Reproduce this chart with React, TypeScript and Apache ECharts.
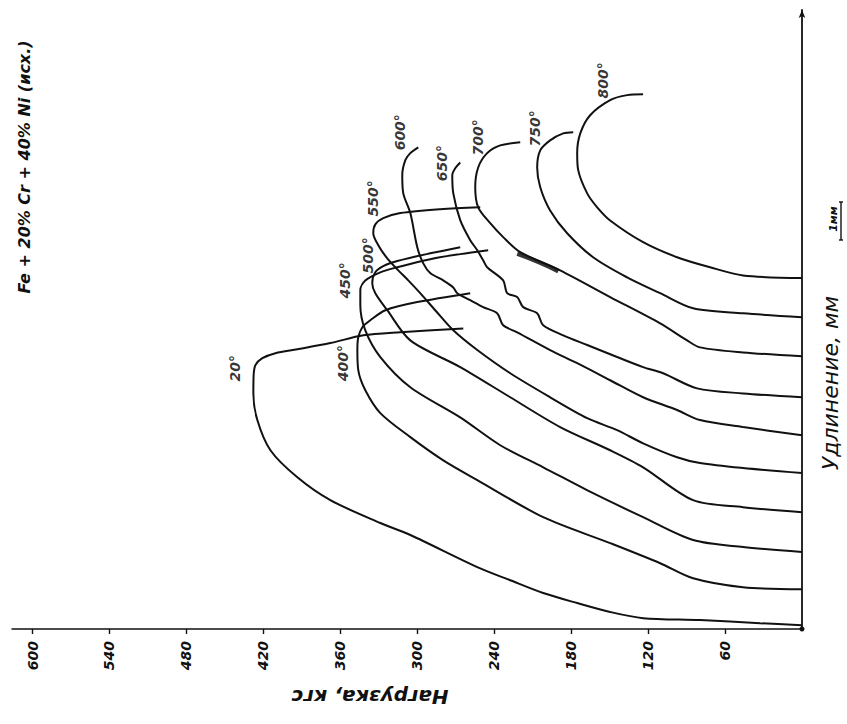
import React, { useEffect, useRef } from 'react';
import * as echarts from 'echarts';

// Load axis (kgf) tick step and range; elongation axis (mm) range
const loadInterval = 60;
const loadMax = 616;
const elongMin = -0.1;
const elongMax = 15.9;

const temperatures = ['20°', '400°', '450°', '500°', '550°', '600°', '650°', '700°', '750°', '800°'];

// each curve: [load kgf, elongation mm] (curves offset by ~1 mm each)
const curve20 = [[0,0],[32.7,0.05],[79.5,0.13],[123.9,0.18],[149.6,0.34],[175.3,0.57],[201.8,0.83],[227.5,1.16],[253.2,1.5],[305.4,2.33],[328.8,2.64],[367.8,3.23],[393.5,3.82],[414.5,4.52],[424.7,5.3],[427.8,5.99],[427.6,6.45],[426.2,6.72],[420.8,6.9],[410.6,7.03],[393.5,7.13],[367.8,7.29],[342.1,7.49],[313.2,7.57],[264.1,7.67]];
const curve400 = [[0,0.93],[46,0.98],[84.9,1.21],[110.6,1.6],[149.6,2.12],[201.8,2.79],[253.2,3.75],[279.7,4.26],[305.4,4.86],[328.8,5.48],[340.5,6.07],[346,6.59],[346.7,7.11],[346,7.44],[342.8,7.7],[336.6,7.88],[324.9,8.14],[300,8.35],[258.7,8.58]];
const curve450 = [[0,1.89],[46,2.02],[84.9,2.2],[123.9,2.79],[162.9,3.41],[201.8,4.08],[235.3,4.65],[266.5,5.37],[305.4,6.15],[328.8,6.93],[340.5,7.62],[344.4,8.27],[344.4,8.66],[340.5,8.91],[328.8,9.12],[315.6,9.25],[289.9,9.46],[266.5,9.59],[244.7,9.69]];
const curve500 = [[0,2.92],[46,3.05],[84.9,3.23],[123.9,4.08],[149.6,4.52],[188.6,5.12],[227.5,5.89],[266.5,6.67],[305.4,7.36],[323.4,8.14],[332.7,8.58],[335.1,8.84],[332.7,9.12],[326.5,9.28],[315.6,9.41],[289.9,9.61],[266.5,9.77]];
const curve550 = [[0,3.93],[46,4.06],[79.5,4.19],[97.4,4.34],[123.9,4.7],[144.2,5.04],[167.5,5.35],[196.4,5.89],[227.5,6.51],[253.2,7.11],[271.9,7.62],[286,8.14],[297.7,8.58],[307,8.91],[314.8,9.17],[323.4,9.48],[330.4,9.82],[334.3,10.13],[332.7,10.36],[326.5,10.52],[313.2,10.65],[282.1,10.75],[250.9,10.8]];
const curve600 = [[0,4.91],[46,5.12],[79.5,5.3],[97.4,5.56],[123.9,5.89],[149.6,6.33],[175.3,6.77],[196.4,7.11],[222.1,7.57],[233,7.75],[237.7,8.06],[248.6,8.22],[258.7,8.4],[268.8,8.58],[271.9,8.73],[279.7,8.91],[289.9,9.1],[295.3,9.35],[300,9.77],[305.4,10.65],[310.9,11.16],[311.7,11.63],[309.3,12.02],[305.4,12.2],[299.2,12.35]];
const curve650 = [[0,5.89],[46,5.99],[81.8,6.12],[108.3,6.51],[123.9,6.67],[144.2,6.93],[167.5,7.24],[186.2,7.49],[201.8,7.75],[206.5,8.06],[217.4,8.22],[222.1,8.48],[229.9,8.58],[233,8.91],[245.5,9.25],[248.6,9.43],[253.2,9.69],[258.7,9.95],[266.5,10.47],[271.9,11.16],[272.7,11.63],[270.4,11.81],[266.5,11.96]];
const curve700 = [[0,6.95],[46,7.05],[79.5,7.18],[89.6,7.36],[110.6,7.8],[149.6,8.48],[188.6,9.17],[219.7,9.64],[233,10.03],[243.1,10.39],[252.5,10.8],[254.8,11.32],[252.5,11.83],[245.5,12.2],[235.3,12.4],[219.7,12.48]];
const curve750 = [[0,7.96],[46,8.06],[84.9,8.19],[110.6,8.58],[136.4,8.99],[162.9,9.51],[183.1,10.13],[196.4,10.72],[204.1,11.32],[206.5,11.83],[204.1,12.27],[196.4,12.53],[186.2,12.71],[178.4,12.74]];
const curve800 = [[0,8.97],[46,9.04],[71.7,9.25],[97.4,9.51],[123.9,9.9],[149.6,10.46],[159.7,10.8],[167.5,11.16],[174.5,11.76],[175.3,12.2],[172.9,12.71],[165.2,13.18],[149.6,13.57],[136.4,13.7],[123.9,13.72]];
// thickened (scribbled) stretch of the 700° trace
const scribble700 = [[222,9.6],[205,9.38],[190,9.15]];

// label anchor positions [load, elongation]
const labelPoints = [[441.8,6.64],[357.7,6.77],[356.1,8.91],[338.2,9.56],[334.3,11.03],[313.2,12.74],[280.5,11.94],[252.5,12.61],[208,12.84],[155.1,14.08]];

const curves = [curve20, curve400, curve450, curve500, curve550, curve600, curve650, curve700, curve750, curve800];

export default function App() {
  const ref = useRef<HTMLDivElement>(null);
  useEffect(() => {
    const chart = echarts.init(ref.current!, null, { renderer: 'svg' });
    const ff = "'DejaVu Sans', sans-serif";
    const ink = '#111';
    chart.setOption({
      animation: false,
      grid: { left: 12, right: 45, top: 10, bottom: 95 },
      xAxis: {
        type: 'value',
        inverse: true,
        min: 0,
        max: loadMax,
        interval: loadInterval,
        splitLine: { show: false },
        axisLine: { onZero: false, symbol: ['none', 'circle'], symbolSize: [5, 5], lineStyle: { color: ink, width: 1.5 } },
        axisTick: { show: true, length: 5, lineStyle: { color: ink, width: 1.4 } },
        axisLabel: {
          rotate: 90, margin: 12, color: ink, fontSize: 14, fontStyle: 'italic', fontWeight: 'bold', fontFamily: ff,
          showMinLabel: false, showMaxLabel: false,
        },
      },
      yAxis: {
        type: 'value',
        position: 'right',
        min: elongMin,
        max: elongMax,
        splitLine: { show: false },
        axisLine: { onZero: false, symbol: ['none', 'arrow'], symbolSize: [5, 8], lineStyle: { color: ink, width: 1.8 } },
        axisTick: { show: false },
        axisLabel: { show: false },
      },
      series: [
        ...curves.map((c, i) => ({
          type: 'line',
          name: temperatures[i],
          data: c,
          showSymbol: false,
          smooth: 0.3,
          lineStyle: { color: ink, width: 2 },
        })),
        {
          type: 'line', data: scribble700, showSymbol: false, smooth: true,
          lineStyle: { color: ink, width: 4.5, opacity: 0.85 },
        },
        {
          type: 'scatter',
          data: labelPoints.map((p, i) => [p[0], p[1], temperatures[i]]),
          symbolSize: 0,
          label: {
            show: true, position: 'inside', rotate: 90,
            formatter: (p: any) => p.value[2],
            color: '#000', fontSize: 14, fontStyle: 'italic', fontWeight: 'bold', fontFamily: ff,
          },
        },
      ],
      graphic: [
        { type: 'text', x: 24, y: 167, rotation: Math.PI / 2, style: { text: 'Fe + 20% Cr + 40% Ni (исх.)', fill: ink, font: `italic bold 16px ${ff}`, align: 'center', verticalAlign: 'middle' } },
        { type: 'text', x: 830, y: 383, rotation: Math.PI / 2, style: { text: 'Удлинение, мм', fill: ink, font: `italic 22px ${ff}`, align: 'center', verticalAlign: 'middle' } },
        { type: 'text', x: 370, y: 697, rotation: Math.PI, style: { text: 'Нагрузка, кгс', fill: ink, font: `italic bold 20px ${ff}`, align: 'center', verticalAlign: 'middle' } },
        { type: 'text', x: 833, y: 219, rotation: Math.PI / 2, style: { text: '1мм', fill: ink, font: `italic bold 11px ${ff}`, align: 'center', verticalAlign: 'middle' } },
        { type: 'line', shape: { x1: 841, y1: 202, x2: 841, y2: 240 }, style: { stroke: ink, lineWidth: 1.4 } },
        { type: 'line', shape: { x1: 839, y1: 202, x2: 843, y2: 202 }, style: { stroke: ink, lineWidth: 1.4 } },
        { type: 'line', shape: { x1: 839, y1: 240, x2: 843, y2: 240 }, style: { stroke: ink, lineWidth: 1.4 } },
      ],
    });
    return () => chart.dispose();
  }, []);
  return <div ref={ref} style={{ position: 'absolute', left: 0, top: 0, width: 847, height: 724 }} />;
}
